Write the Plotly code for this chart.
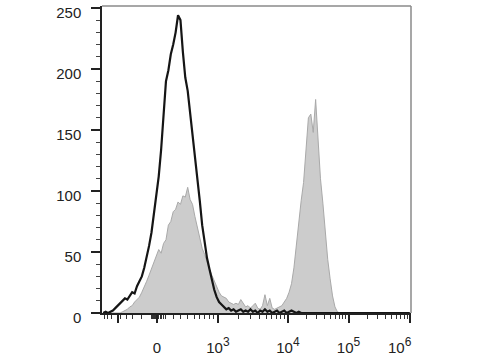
import numpy as np
import plotly.graph_objects as go

# ---- display scale of the x axis (biexponential-like): anchor values -> display channel
SCALE_VALUES = [-1e4, -1e3, 0, 1e3, 1e4, 1e5, 1e6]
SCALE_CHANNELS = [-23, 52, 182, 384, 616, 817, 1021]
COFACTOR = 500
CHANNEL_MAX = 1024
BIN_WIDTH = 8  # channels per histogram bin (128 bins)

# ---- histogram counts per display bin
UNSTAINED = [
    0, 1, 0, 1, 2, 4, 6, 8, 10, 12, 11, 14, 17, 16, 22, 26, 30, 37, 45, 55,
    66, 82, 97, 112, 134, 167, 190, 199, 212, 220, 230, 244, 240, 214, 193, 182, 164, 150, 130, 111,
    92, 72, 57, 45, 36, 27, 19, 13, 9, 7, 5, 3, 4, 2, 3, 1, 2, 3, 1, 2,
    1, 3, 1, 2, 0, 2, 1, 3, 1, 2, 0, 1, 2, 0, 1, 2, 0, 1, 2, 1,
    0, 1, 0, 0, 0, 0, 0, 0, 0, 0, 0, 0, 0, 0, 0, 0, 0, 0, 0, 0,
    0, 0, 0, 0, 0, 0, 0, 0, 0, 0, 0, 0, 0, 0, 0, 0, 0, 0, 0, 0,
    0, 0, 0, 0, 0, 0, 0, 0,
]
STAINED = [
    0, 0, 0, 0, 0, 0, 0, 0, 1, 2, 3, 5, 6, 9, 11, 13, 17, 21, 26, 31,
    36, 42, 46, 52, 49, 57, 60, 72, 75, 83, 85, 91, 89, 96, 95, 103, 93, 89, 79, 71,
    62, 53, 48, 41, 36, 31, 26, 21, 17, 14, 13, 12, 9, 8, 7, 8, 7, 11, 8, 5,
    6, 4, 6, 8, 4, 3, 6, 15, 6, 12, 4, 3, 4, 5, 6, 9, 12, 17, 24, 37,
    57, 75, 92, 107, 135, 160, 163, 148, 175, 140, 110, 90, 66, 44, 28, 14, 5, 1, 0, 0,
    0, 0, 0, 0, 0, 0, 0, 0, 0, 0, 0, 0, 0, 0, 0, 0, 0, 0, 0, 0,
    0, 0, 0, 0, 0, 0, 0, 0,
]

# ---- tick labels / tick values (in data units)
MAJOR_VALUES = [-1e3, 0, 1e3, 1e4, 1e5, 1e6]
SUP = "<span style='font-size:12px;baseline-shift:7px'>{}</span>"
MAJOR_LABELS = ["", "0", "10" + SUP.format(3), "10" + SUP.format(4), "10" + SUP.format(5),
                "10" + SUP.format(6) + "&nbsp;" * 5]
NEG_MINOR = [-4000, -3000, -2000, -900, -700, -500, -300, -100, -80, -60, -40, -20]
POS_MINOR = [20, 40, 60, 80] + [k * 10 ** e for e in (2, 3, 4, 5) for k in range(1 if e == 2 else 2, 10)]
Y_TICKS = [0, 50, 100, 150, 200, 250]
Y_MAX = 251.6


def to_channel(v):
    v = np.asarray(v, dtype=float)
    return np.interp(np.arcsinh(v / COFACTOR),
                     np.arcsinh(np.asarray(SCALE_VALUES) / COFACTOR),
                     SCALE_CHANNELS)


bin_centers = np.arange(len(UNSTAINED)) * BIN_WIDTH + BIN_WIDTH / 2

fig = go.Figure()
fig.add_trace(go.Scatter(
    x=bin_centers, y=STAINED, mode="lines", fill="tozeroy",
    fillcolor="#cccccc", line=dict(color="#a9a9a9", width=1), showlegend=False,
))
fig.add_trace(go.Scatter(
    x=bin_centers, y=UNSTAINED, mode="lines",
    line=dict(color="#151515", width=2.2), showlegend=False,
))

font = dict(family="Arial, 'Liberation Sans', sans-serif", size=15, color="#222222")

fig.update_layout(
    width=480, height=360,
    margin=dict(l=102, r=69, t=6, b=47, pad=0, autoexpand=False),
    paper_bgcolor="white", plot_bgcolor="white",
    font=font, showlegend=False,
    xaxis=dict(
        range=[0, CHANNEL_MAX], showgrid=False, zeroline=False, automargin=False,
        showline=True, linecolor="#222222", linewidth=2,
        tickmode="array", tickvals=to_channel(MAJOR_VALUES).tolist(), ticktext=MAJOR_LABELS,
        ticks="outside", ticklen=8, tickwidth=2, tickcolor="#222222",
        ticklabelstandoff=12, ticklabeloverflow="allow",
        minor=dict(tickmode="array", tickvals=to_channel(NEG_MINOR + POS_MINOR).tolist(),
                   ticks="outside", ticklen=4, tickwidth=1.2, tickcolor="#333333"),
    ),
    yaxis=dict(
        range=[0, Y_MAX], showgrid=False, zeroline=False, automargin=False,
        showline=True, linecolor="#222222", linewidth=1.5,
        tickmode="array", tickvals=Y_TICKS, ticktext=[str(t) for t in Y_TICKS],
        ticks="outside", ticklen=9, tickwidth=2, tickcolor="#222222",
        ticklabelstandoff=7, ticklabelshift=5, ticklabeloverflow="allow",
        minor=dict(dtick=10, tick0=0, ticks="outside", ticklen=4, tickwidth=1.2, tickcolor="#444444"),
    ),
    shapes=[
        dict(type="line", xref="paper", yref="paper", x0=0, x1=1, y0=1, y1=1,
             line=dict(color="#8a8a8a", width=1.5)),
        dict(type="line", xref="paper", yref="paper", x0=1, x1=1, y0=0, y1=1,
             line=dict(color="#8a8a8a", width=1.5)),
    ],
)

fig.write_html("out.html")
